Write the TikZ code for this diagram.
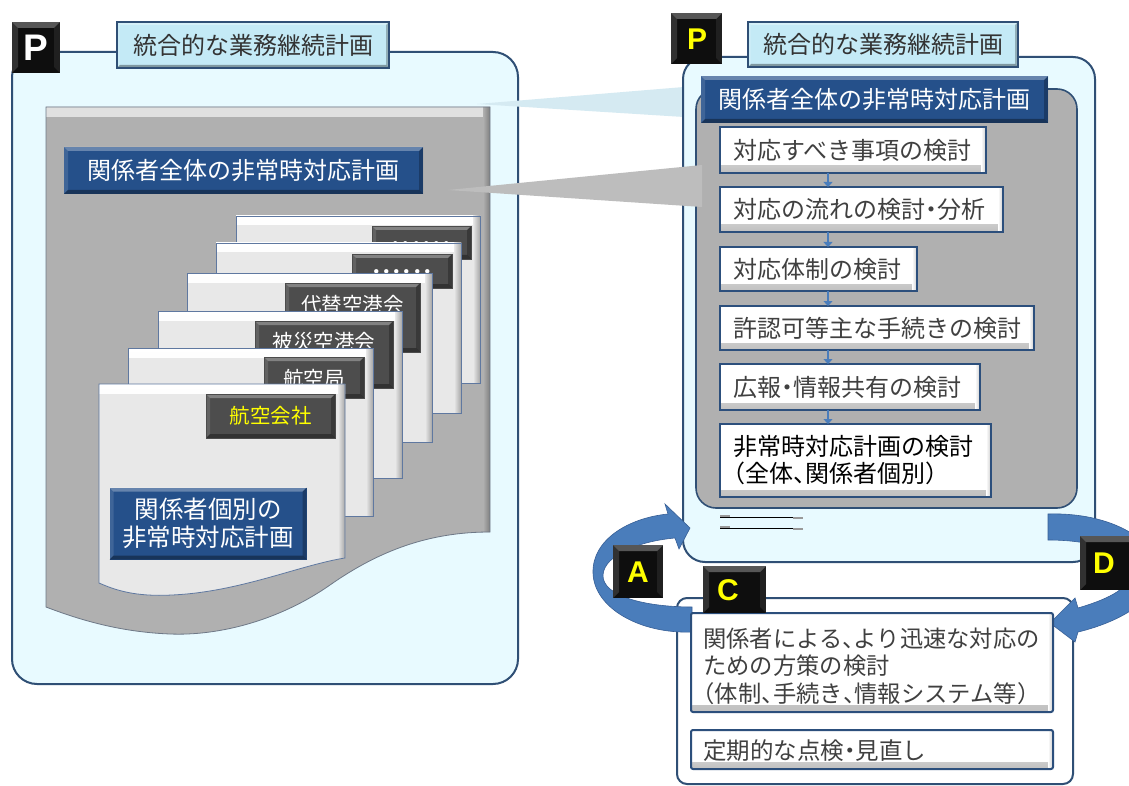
\documentclass[tikz,border=0pt]{standalone}
\usepackage{fontspec}
\setmainfont{Noto Sans CJK JP}
\newfontfamily\badgefont{Liberation Sans}
\usetikzlibrary{arrows.meta}
\newcommand\jc{\makebox[0.5em][l]{、}}
\newcommand\jd{\makebox[0.5em][c]{・}}
\newcommand\jlp{\makebox[0.5em][r]{（}}
\newcommand\jrp{\makebox[0.5em][l]{）}}
\newcommand\setfs[2]{\fontsize{#1}{#2}\selectfont}
\definecolor{panelfill}{RGB}{232,250,255}
\definecolor{panelline}{RGB}{47,79,117}
\definecolor{titlefill}{RGB}{196,234,246}
\definecolor{titletext}{RGB}{51,51,51}
\definecolor{hdrblue}{RGB}{37,80,138}
\definecolor{docgray}{RGB}{176,176,176}
\definecolor{docline}{RGB}{110,120,135}
\definecolor{pagefill}{RGB}{232,232,232}
\definecolor{pageline}{RGB}{95,120,160}
\definecolor{lblgray}{RGB}{77,77,77}
\definecolor{txtgray}{RGB}{64,64,64}
\definecolor{flowline}{RGB}{44,79,124}
\definecolor{arrowblue}{RGB}{74,125,187}
\definecolor{arrowline}{RGB}{55,95,150}
\definecolor{wedgelight}{RGB}{213,234,242}
\definecolor{wedgegray}{RGB}{189,189,189}
\definecolor{badgeblk}{RGB}{14,14,14}
\definecolor{ylw}{RGB}{255,255,0}
\tikzset{
  bevelk/.style={path picture={
    \fill[white,opacity=.3] (path picture bounding box.north west) -- (path picture bounding box.north east) -- ([shift={(-#1,-#1)}]path picture bounding box.north east) -- ([shift={(#1,-#1)}]path picture bounding box.north west) -- cycle;
    \fill[white,opacity=.12] (path picture bounding box.north west) -- ([shift={(#1,-#1)}]path picture bounding box.north west) -- ([shift={(#1,#1)}]path picture bounding box.south west) -- (path picture bounding box.south west) -- cycle;
    \fill[black,opacity=.25] (path picture bounding box.north east) -- ([shift={(-#1,-#1)}]path picture bounding box.north east) -- ([shift={(-#1,#1)}]path picture bounding box.south east) -- (path picture bounding box.south east) -- cycle;
    \fill[black,opacity=.35] (path picture bounding box.south west) -- (path picture bounding box.south east) -- ([shift={(-#1,#1)}]path picture bounding box.south east) -- ([shift={(#1,#1)}]path picture bounding box.south west) -- cycle;
  }},
  bevelk/.default=4pt,
  badgebevel/.style={path picture={
    \fill[white,opacity=.3] (path picture bounding box.north west) -- (path picture bounding box.north east) -- ([shift={(-6pt,-6pt)}]path picture bounding box.north east) -- ([shift={(6pt,-6pt)}]path picture bounding box.north west) -- cycle;
    \fill[white,opacity=.15] (path picture bounding box.north west) -- ([shift={(6pt,-6pt)}]path picture bounding box.north west) -- ([shift={(6pt,6pt)}]path picture bounding box.south west) -- (path picture bounding box.south west) -- cycle;
    \fill[white,opacity=.08] (path picture bounding box.north east) -- ([shift={(-6pt,-6pt)}]path picture bounding box.north east) -- ([shift={(-6pt,6pt)}]path picture bounding box.south east) -- (path picture bounding box.south east) -- cycle;
  }},
  bevelw/.style={path picture={
    \shade[top color=white,bottom color=black!25] ([yshift=7pt]path picture bounding box.south west) rectangle (path picture bounding box.south east);
    \shade[left color=white,right color=black!20] ([xshift=-5pt]path picture bounding box.north east) rectangle (path picture bounding box.south east);
  }},
  pagebevel/.style={path picture={
    \shade[top color=white,bottom color=pagefill] (path picture bounding box.north west) rectangle ([yshift=-9pt]path picture bounding box.north east);
    \shade[left color=pagefill,right color=black!35] ([xshift=-7pt]path picture bounding box.north east) rectangle (path picture bounding box.south east);
  }},
  docbevel/.style={path picture={
    \shade[top color=black!12,bottom color=docgray] (path picture bounding box.north west) rectangle ([yshift=-10pt]path picture bounding box.north east);
    \shade[left color=docgray,right color=black!50] ([xshift=-7pt]path picture bounding box.north east) rectangle (path picture bounding box.south east);
  }},
  box/.style={inner sep=0pt, outer sep=0pt, anchor=north west},
  panel/.style={box, fill=panelfill, draw=panelline, line width=2pt},
  titlebox/.style={box, fill=titlefill, draw=panelline, line width=2pt, bevelk=3pt, text=titletext, font=\setfs{24}{28}},
  hdr/.style={box, fill=hdrblue, bevelk=4pt, text=white, font=\setfs{24}{28}, align=center},
  page/.style={box, fill=pagefill, draw=pageline, line width=0.8pt, pagebevel},
  lbl/.style={box, fill=lblgray, draw=black!70, line width=0.6pt, bevelk=4pt},
  lbltext/.style={inner sep=0pt, text=white, font=\setfs{20.5}{24}},
  flowbox/.style={box, fill=white, draw=flowline, line width=1.6pt, bevelw, inner xsep=13pt, align=left, text=txtgray, font=\setfs{24}{27}},
  cbox/.style={box, fill=white, draw=flowline, line width=2pt, bevelw, rounded corners=2pt},
  ctext/.style={inner sep=0pt, anchor=west, align=left, text=txtgray, font=\setfs{23.3}{27.5}},
  flowarr/.style={draw=arrowblue, line width=2pt, -{Triangle[width=9pt,length=5pt]}},
  cyclearrow/.style={fill=arrowblue, draw=arrowline, line width=0.6pt},
  badge/.style={box, fill=badgeblk, badgebevel},
  badgeletter/.style={inner sep=0pt, font=\badgefont\bfseries\setfs{30}{30}, text=ylw},
}
\begin{document}
\begin{tikzpicture}[x=1pt,y=-1pt]
\useasboundingbox (0,0) rectangle (1129,786);
\fill[white] (0,0) rectangle (1129,786);

% ---------- left panel ----------
\node[panel, rounded corners=25pt, minimum width=506pt, minimum height=632pt] (lpanel) at (12,52) {};
\node[titlebox, minimum width=272pt, minimum height=46pt] (ltitle) at (117,22) {統合的な業務継続計画};
\node[badge, minimum width=48pt, minimum height=51pt] (lbadge) at (12,22) {};
\node[badgeletter, text=white, font=\badgefont\bfseries\setfs{37}{37}] (lP) at (36,48) {P};

% gray document
\path[fill=docgray, draw=docline, line width=0.8pt, docbevel] (46,107) -- (490,107) -- (490,532)
  .. controls (430,532) and (380,550) .. (330,585)
  .. controls (280,620) and (220,636) .. (170,634)
  .. controls (120,632) and (80,620) .. (46,607) -- cycle;
\node[hdr, minimum width=359pt, minimum height=47pt] (lhdr) at (64,147) {関係者全体の非常時対応計画};

% stack of pages
\node[page, minimum width=244pt, minimum height=167pt] (pg1) at (236,216) {};
\node[lbl, minimum width=99pt, minimum height=33pt] (lb1) at (372,226) {};
\node[lbltext] (lt1) at (421.5,246.5) {\jd\jd\jd\jd\jd\jd};
\node[page, minimum width=245pt, minimum height=170pt] (pg2) at (216,243) {};
\node[lbl, minimum width=100pt, minimum height=34pt] (lb2) at (352,254) {};
\node[lbltext] (lt2) at (402,275) {\jd\jd\jd\jd\jd\jd};
\node[page, minimum width=245pt, minimum height=169pt] (pg3) at (187,273) {};
\node[lbl, minimum width=135pt, minimum height=69pt] (lb3) at (285,283) {};
\node[lbltext] (lt3) at (352.5,305) {代替空港会};
\node[page, minimum width=244pt, minimum height=167pt] (pg4) at (158,311) {};
\node[lbl, minimum width=138pt, minimum height=67pt] (lb4) at (255,321) {};
\node[lbltext] (lt4) at (324,342) {被災空港会};
\node[page, minimum width=245pt, minimum height=168pt] (pg5) at (128,348) {};
\node[lbl, minimum width=100pt, minimum height=41pt] (lb5) at (264,357) {};
\node[lbltext] (lt5) at (314,379) {航空局};
\path[fill=pagefill, draw=pageline, line width=0.8pt, pagebevel] (99,384) -- (345,384) -- (345,558)
  .. controls (300,565) and (240,592) .. (172,595)
  .. controls (135,597) and (115,590) .. (99,583) -- cycle;
\node[lbl, minimum width=129pt, minimum height=44pt] (lb6) at (206,394) {};
\node[lbltext, text=ylw] (lt6) at (270.5,416) {航空会社};
\node[hdr, minimum width=197pt, minimum height=72pt, font=\setfs{24.5}{28}] (lindiv) at (109.5,487.5) {関係者個別の\\非常時対応計画};

% light wedge
\fill[wedgelight] (477,104) -- (684,87) -- (684,117) -- cycle;

% ---------- right panel ----------
\node[panel, rounded corners=22pt, minimum width=412pt, minimum height=505pt] (rpanel) at (683,57) {};
\node[titlebox, minimum width=270pt, minimum height=45pt] (rtitle) at (748,22) {統合的な業務継続計画};
\node[badge, minimum width=51pt, minimum height=51pt] (rbadge) at (671,13) {};
\node[badgeletter] (rP) at (697,39) {P};
\node[box, fill=docgray, draw=panelline, line width=1.6pt, rounded corners=20pt, minimum width=381pt, minimum height=419pt] (rgray) at (696,89) {};
\fill[wedgegray] (448,190) -- (702,165) -- (702,207) -- cycle;
\node[hdr, minimum width=347pt, minimum height=47pt] (rhdr) at (701,76) {関係者全体の非常時対応計画};

\node[flowbox, minimum height=46pt, text width=240pt] (f1) at (720,127) {対応すべき事項の検討};
\node[flowbox, minimum height=45pt, text width=257pt] (f2) at (720,187) {対応の流れの検討\jd 分析};
\node[flowbox, minimum height=44pt, text width=171pt] (f3) at (720,247) {対応体制の検討};
\node[flowbox, minimum height=44pt, text width=288pt] (f4) at (720,306) {許認可等主な手続きの検討};
\node[flowbox, minimum height=46pt, text width=234pt] (f5) at (720,364) {広報\jd 情報共有の検討};
\node[flowbox, minimum height=73pt, text width=245pt, text=black] (f6) at (720,424) {非常時対応計画の検討\\\jlp 全体\jc 関係者個別\jrp};

\coordinate (ax) at (828,0);
\draw[flowarr] (f1.south -| ax) -- (f2.north -| ax);
\draw[flowarr] (f2.south -| ax) -- (f3.north -| ax);
\draw[flowarr] (f3.south -| ax) -- (f4.north -| ax);
\draw[flowarr] (f4.south -| ax) -- (f5.north -| ax);
\draw[flowarr] (f5.south -| ax) -- (f6.north -| ax);

% small double line
\draw[black, line width=1.2pt] (720,517.5) -- (793,517.5);
\draw[black!40, line width=1.6pt] (793,518) -- (803,518);
\draw[black!40, line width=1.4pt] (720,516) -- (730,516);
\draw[black, line width=1.2pt] (720,528.5) -- (793,528.5);
\draw[black!40, line width=1.6pt] (793,529) -- (803,529);
\draw[black!40, line width=1.4pt] (720,527) -- (730,527);

% ---------- C panel ----------
\node[box, fill=white, draw=panelline, line width=2pt, rounded corners=10pt, minimum width=396pt, minimum height=186pt] (cpanel) at (677,598) {};

% cycle arrows
\path[cyclearrow] (692,632) .. controls (640,634) and (594,608) .. (593,573)
  .. controls (592,540) and (628,518) .. (668,514) -- (665,504) -- (690,528) -- (679,549) -- (675,538)
  .. controls (640,541) and (604,555) .. (603,575)
  .. controls (602,596) and (645,607) .. (692,607) -- cycle;
\path[cyclearrow] (1048,514) .. controls (1110,512) and (1160,540) .. (1158,575)
  .. controls (1156,600) and (1120,622) .. (1078,632) -- (1075,642) -- (1050,623) -- (1075,598) -- (1078,608)
  .. controls (1105,600) and (1128,590) .. (1130,575)
  .. controls (1132,555) and (1100,540) .. (1048,540) -- cycle;

\node[cbox, minimum width=362pt, minimum height=99pt] (c1) at (691,613) {};
\node[ctext] (c1t) at (703,666) {関係者による\jc より迅速な対応の\\ための方策の検討\\\jlp 体制\jc 手続き\jc 情報システム等\jrp};
\node[cbox, minimum width=362pt, minimum height=39pt] (c2) at (691,730) {};
\node[ctext, font=\setfs{23.5}{27.5}] (c2t) at (703,751) {定期的な点検\jd 見直し};

% badges A, C, D
\node[badge, minimum width=50pt, minimum height=53pt] (abadge) at (613,545) {};
\node[badgeletter] (aA) at (638,572) {A};
\node[badge, minimum width=63pt, minimum height=47pt] (cbadge) at (703,566) {};
\node[badgeletter] (cC) at (728,590) {C};
\node[badge, minimum width=55pt, minimum height=54pt] (dbadge) at (1080,536) {};
\node[badgeletter] (dD) at (1104,563) {D};
\end{tikzpicture}
\end{document}
